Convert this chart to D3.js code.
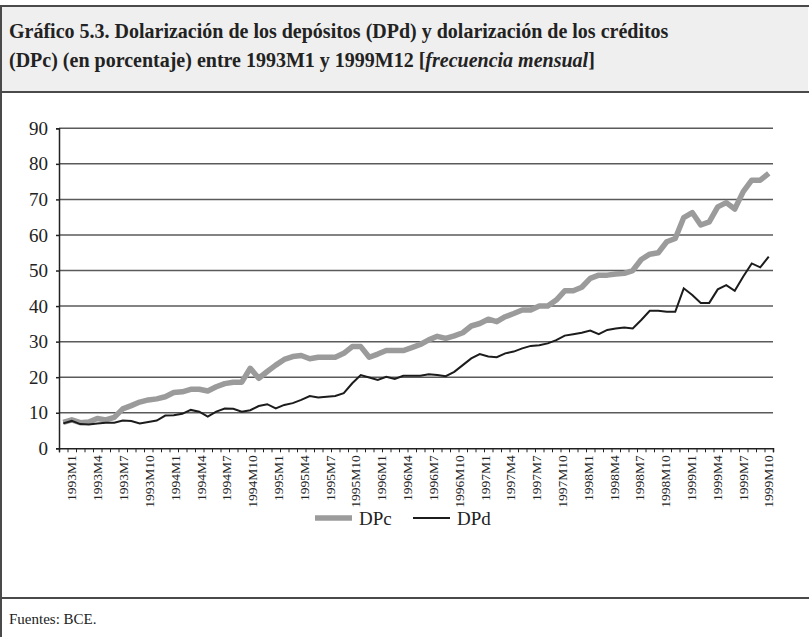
<!DOCTYPE html>
<html>
<head>
<meta charset="utf-8">
<script src="https://cdn.jsdelivr.net/npm/d3@7/dist/d3.min.js"></script>
<style>
  body { margin: 0; background: #fff; }
  svg { display: block; font-family: "Liberation Serif", "DejaVu Serif", serif; }
</style>
</head>
<body>
<div id="chart"></div>
<script>
// categories: monthly, 1993M1 .. 1999M12
const years = [1993, 1994, 1995, 1996, 1997, 1998, 1999];
const months = years.flatMap(y => d3.range(1, 13).map(m => `${y}M${m}`));

const tickLabels = [
  "1993M1", "1993M4", "1993M7", "1993M10", "1994M1", "1994M4", "1994M7", "1994M10",
  "1995M1", "1995M4", "1995M7", "1995M10", "1996M1", "1996M4", "1996M7", "1996M10",
  "1997M1", "1997M4", "1997M7", "1997M10", "1998M1", "1998M4", "1998M7", "1998M10",
  "1999M1", "1999M4", "1999M7", "1999M10"
];
const yTicks = [0, 10, 20, 30, 40, 50, 60, 70, 80, 90];

// dolarización de los créditos
const dpc = [
  7.3, 8.0, 7.2, 7.4, 8.4, 8.0, 8.7, 11.1, 12.0, 13.0,
  13.6, 13.9, 14.5, 15.7, 15.9, 16.6, 16.6, 16.1, 17.3, 18.2,
  18.6, 18.6, 22.5, 19.7, 21.6, 23.4, 25.0, 25.8, 26.1, 25.2,
  25.6, 25.6, 25.6, 26.7, 28.6, 28.6, 25.6, 26.5, 27.5, 27.5,
  27.5, 28.3, 29.2, 30.5, 31.5, 30.9, 31.6, 32.5, 34.4, 35.1,
  36.3, 35.6, 37.0, 37.9, 38.9, 38.9, 40.0, 40.0, 41.7, 44.3,
  44.3, 45.3, 47.8, 48.7, 48.7, 49.0, 49.2, 50.0, 53.1, 54.6,
  55.0, 58.1, 59.0, 64.9, 66.3, 62.8, 63.7, 67.9, 69.1, 67.3,
  72.2, 75.4, 75.4, 77.3
];
// dolarización de los depósitos
const dpd = [
  7.0, 7.7, 6.8, 6.7, 7.0, 7.2, 7.2, 7.8, 7.7, 7.0,
  7.4, 7.8, 9.2, 9.3, 9.7, 10.8, 10.3, 8.9, 10.3, 11.2,
  11.1, 10.3, 10.7, 11.9, 12.4, 11.2, 12.2, 12.7, 13.6, 14.7,
  14.3, 14.5, 14.7, 15.5, 18.3, 20.6, 19.9, 19.2, 20.1, 19.5,
  20.4, 20.4, 20.4, 20.8, 20.6, 20.3, 21.5, 23.4, 25.3, 26.5,
  25.8, 25.6, 26.7, 27.2, 28.1, 28.8, 29.0, 29.5, 30.4, 31.7,
  32.1, 32.5, 33.1, 32.1, 33.3, 33.7, 34.0, 33.7, 36.1, 38.7,
  38.7, 38.4, 38.4, 45.0, 43.1, 40.9, 40.9, 44.7, 45.9, 44.3,
  48.3, 52.0, 50.9, 53.9
];

const width = 809;
const height = 637;
const plot = { left: 59, right: 773, top: 128.3, bottom: 448.3 };

const svg = d3.select("#chart")
  .append("svg")
  .attr("width", width)
  .attr("height", height);

//Frame: title box, chart box, source box
svg.append("rect")
  .attr("x", 1).attr("y", 6)
  .attr("width", width - 2).attr("height", 86)
  .attr("fill", "#efefef");
svg.append("rect")
  .attr("x", 1).attr("y", 6)
  .attr("width", width + 10).attr("height", height + 10)
  .attr("fill", "none")
  .attr("stroke", "#4a4a4a")
  .attr("stroke-width", 2);
[92, 598].forEach(yy => {
  svg.append("line")
    .attr("x1", 1).attr("x2", width)
    .attr("y1", yy).attr("y2", yy)
    .attr("stroke", "#4a4a4a")
    .attr("stroke-width", 2);
});

//Title
const title = svg.append("text")
  .attr("x", 9)
  .attr("font-size", 20)
  .attr("font-weight", "bold")
  .attr("fill", "#222");
title.append("tspan").attr("x", 9).attr("y", 38)
  .text("Gráfico 5.3. Dolarización de los depósitos (DPd) y dolarización de los créditos");
const l2 = title.append("tspan").attr("x", 9).attr("y", 67);
l2.append("tspan").text("(DPc) (en porcentaje) entre 1993M1 y 1999M12 [");
l2.append("tspan").attr("font-style", "italic").text("frecuencia mensual");
l2.append("tspan").text("]");

//Scales
const x = d3.scaleBand()
  .domain(months)
  .range([plot.left, plot.right]);
const xIdx = d3.scaleLinear()
  .domain([0, months.length])
  .range([plot.left, plot.right]);
const y = d3.scaleLinear()
  .domain([0, 90])
  .range([plot.bottom, plot.top]);
const xLab = d3.scalePoint()
  .domain(tickLabels)
  .range([x(months[1]) + x.bandwidth() / 2, x(months[months.length - 1]) + x.bandwidth() / 2]);

//Gridlines
svg.append("g")
  .selectAll("line")
  .data(yTicks.filter(d => d > 0))
  .enter().append("line")
  .attr("x1", plot.left).attr("x2", plot.right)
  .attr("y1", d => y(d)).attr("y2", d => y(d))
  .attr("stroke", "#5a5a5a")
  .attr("stroke-width", 1.5);

//Y axis
const yAxis = svg.append("g")
  .attr("transform", `translate(${plot.left},0)`)
  .call(d3.axisLeft(y).tickValues(yTicks).tickSize(3).tickPadding(8));
yAxis.select(".domain").attr("stroke", "#222").attr("stroke-width", 1.5);
yAxis.selectAll(".tick line").attr("stroke", "#222").attr("stroke-width", 1.5);
yAxis.selectAll(".tick text")
  .attr("font-family", "Liberation Serif, serif")
  .attr("font-size", 19)
  .attr("fill", "#222");

//X axis: ticks between months
const xAxis = svg.append("g")
  .attr("transform", `translate(0,${plot.bottom})`)
  .call(d3.axisBottom(xIdx).tickValues(d3.range(0, months.length + 1)).tickSize(4).tickFormat(""));
xAxis.select(".domain").attr("stroke", "#222").attr("stroke-width", 1.5);
xAxis.selectAll(".tick line").attr("stroke", "#222");

svg.append("g")
  .selectAll("text")
  .data(tickLabels)
  .enter().append("text")
  .attr("transform", d => `translate(${xLab(d)},${plot.bottom + 7}) rotate(-90)`)
  .attr("text-anchor", "end")
  .attr("dy", "0.35em")
  .attr("font-size", 13.5)
  .attr("fill", "#222")
  .text(d => d);

//Lines
const line = d3.line()
  .x((d, i) => x(months[i]) + x.bandwidth() / 2)
  .y(d => y(d));

svg.append("path")
  .datum(dpc)
  .attr("fill", "none")
  .attr("stroke", "#9b9b9b")
  .attr("stroke-width", 5.5)
  .attr("stroke-linejoin", "round")
  .attr("d", line);

svg.append("path")
  .datum(dpd)
  .attr("fill", "none")
  .attr("stroke", "#1c1c1c")
  .attr("stroke-width", 2)
  .attr("d", line);

//Legend
const legend = [
  { label: "DPc", color: "#9b9b9b", w: 5.5, x: 315 },
  { label: "DPd", color: "#1c1c1c", w: 2, x: 413 }
];
const lg = svg.append("g").attr("transform", "translate(0,518)");
legend.forEach(d => {
  lg.append("line")
    .attr("x1", d.x).attr("x2", d.x + 37)
    .attr("stroke", d.color)
    .attr("stroke-width", d.w);
  lg.append("text")
    .attr("x", d.x + 44)
    .attr("dy", "0.35em")
    .attr("font-size", 19)
    .attr("fill", "#222")
    .text(d.label);
});

//Source
svg.append("text")
  .attr("x", 9)
  .attr("y", 624)
  .attr("font-size", 15)
  .attr("fill", "#222")
  .text("Fuentes: BCE.");
</script>
</body>
</html>
